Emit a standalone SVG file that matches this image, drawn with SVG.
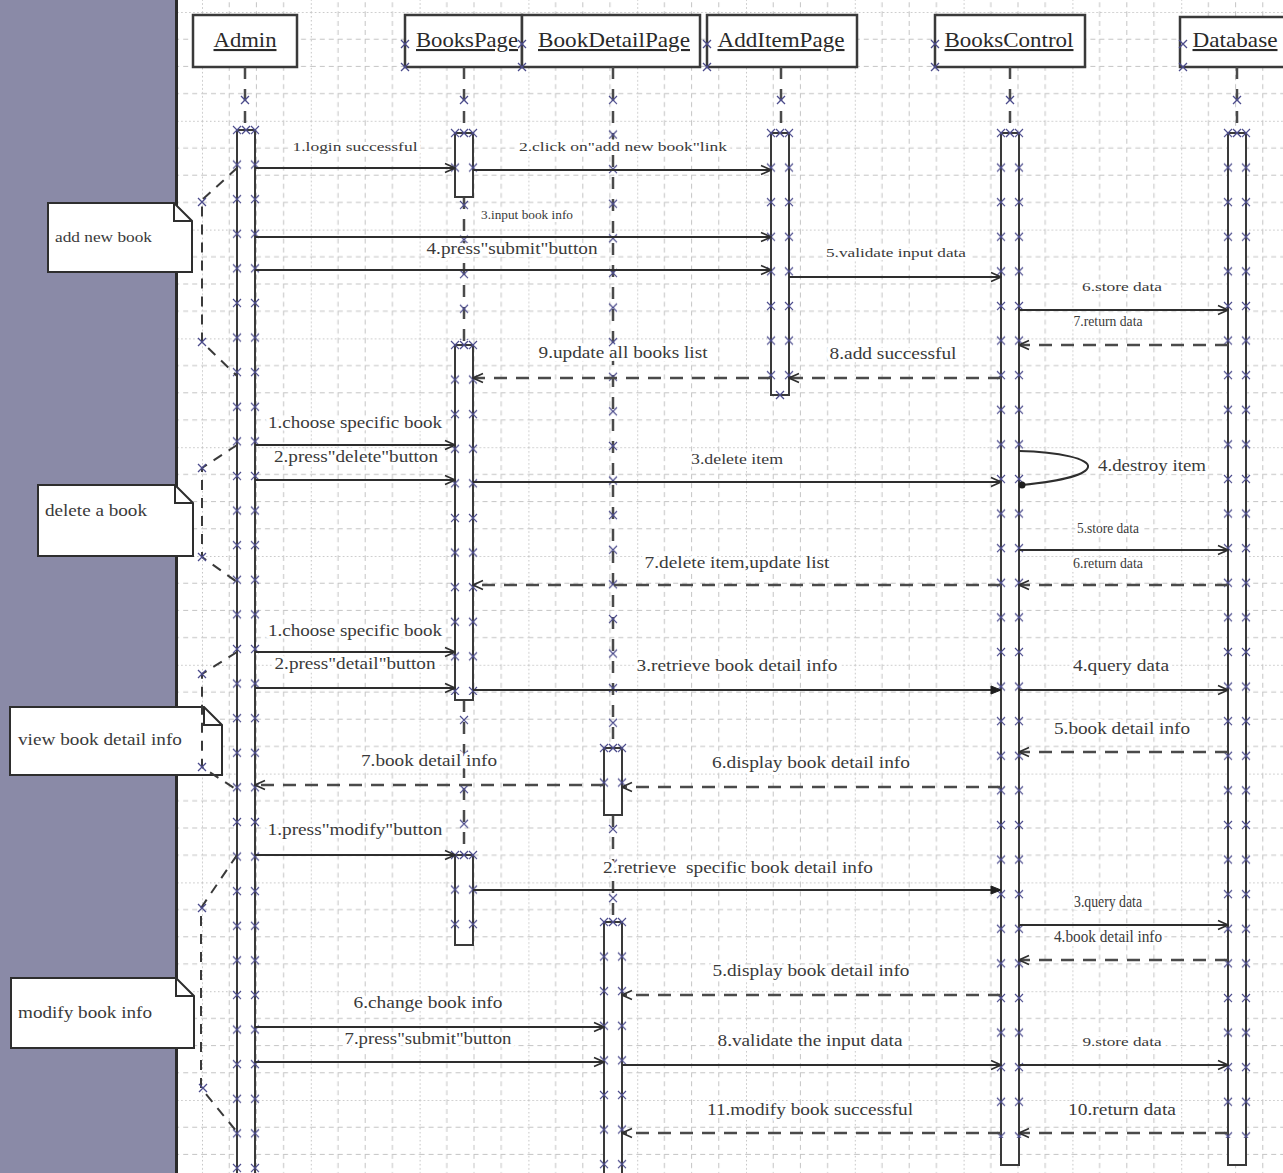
<svg xmlns="http://www.w3.org/2000/svg" xmlns:xlink="http://www.w3.org/1999/xlink" width="1283" height="1173" viewBox="0 0 1283 1173">
  <style>
    .head { fill: #ffffff; stroke: #3a3a3a; stroke-width: 2.5; }
    .name { font-family: "Liberation Serif", serif; font-size: 21px; fill: #2a2a2a; text-anchor: middle; text-decoration: underline; }
    .life { stroke: #4a4a4a; stroke-width: 2.5; stroke-dasharray: 12 10; fill: none; }
    .bar { fill: #ffffff; stroke: #3a3a3a; stroke-width: 2; }
    .msg { stroke: #2e2e2e; stroke-width: 2; fill: none; marker-end: url(#open); }
    .msgf { stroke: #2e2e2e; stroke-width: 2; fill: none; marker-end: url(#solid); }
    .ret { stroke: #4a4a4a; stroke-width: 2.5; stroke-dasharray: 13 9; fill: none; marker-end: url(#open); }
    .brk { stroke: #3a3a3a; stroke-width: 2; stroke-dasharray: 10 8; fill: none; }
    .lbl { font-family: "Liberation Serif", serif; font-size: 16px; fill: #3a3a3a; text-anchor: middle; paint-order: stroke; stroke: #ffffff; stroke-width: 6px; stroke-linejoin: round; white-space: pre; }
    .sm { font-size: 12px; }
    .md { font-size: 14px; }
    .note { fill: #ffffff; stroke: #2e2e2e; stroke-width: 2; }
    .ntxt { font-family: "Liberation Serif", serif; font-size: 15px; fill: #3a3a3a; }
  </style>
  <defs>
    <!-- page grid: fine dotted major line every 4 cells, dashed minor lines -->
    <pattern id="grid" patternUnits="userSpaceOnUse" x="202" y="12" width="108.8" height="108.8">
      <g fill="none" stroke="#c4c4c4" stroke-width="1">
        <path d="M0,0.5H108.8M0.5,0V108.8" stroke-dasharray="1.5 2.5"/>
        <path d="M0,27.2H108.8M0,54.4H108.8M0,81.6H108.8M27.2,0V108.8M54.4,0V108.8M81.6,0V108.8" stroke-dasharray="5 4"/>
      </g>
    </pattern>
    <!-- connection point crosses along both edges of an activation bar -->
    <pattern id="barx" patternUnits="userSpaceOnUse" x="-5" y="-5" width="28" height="34.6">
      <path d="M1,1L9,9M1,9L9,1M19,1L27,9M19,9L27,1" stroke="#4b4b8c" stroke-width="1.2" fill="none"/>
    </pattern>
    <!-- connection point crosses along a dashed lifeline -->
    <pattern id="linex" patternUnits="userSpaceOnUse" x="-5" y="-5" width="10" height="34.6">
      <path d="M1,1L9,9M1,9L9,1" stroke="#4b4b8c" stroke-width="1.2" fill="none"/>
    </pattern>
    <g id="xm"><path d="M-4,-4L4,4M-4,4L4,-4" stroke="#4b4b8c" stroke-width="1.3" fill="none"/></g>
    <marker id="open" viewBox="0 0 12 12" refX="11" refY="6" markerWidth="12" markerHeight="12" markerUnits="userSpaceOnUse" orient="auto">
      <path d="M1,1.5L11,6L1,10.5" fill="none" stroke="#2e2e2e" stroke-width="1.6"/>
    </marker>
    <marker id="solid" viewBox="0 0 12 12" refX="11" refY="6" markerWidth="12" markerHeight="12" markerUnits="userSpaceOnUse" orient="auto">
      <path d="M1,2L11,6L1,10Z" fill="#1e1e1e" stroke="#1e1e1e" stroke-width="1"/>
    </marker>
  </defs>

  <!-- page and side panel -->
  <rect x="0" y="0" width="1283" height="1173" fill="#ffffff"/>
  <rect x="178" y="0" width="1105" height="1173" fill="url(#grid)"/>
  <rect x="0" y="0" width="176" height="1173" fill="#8a8aa7"/>
  <line x1="176.5" y1="0" x2="176.5" y2="1173" stroke="#2a2a2a" stroke-width="3"/>

  <!-- lifelines -->
  <g id="admin">
    <rect class="head" x="193" y="15" width="104" height="52"/>
    <text class="name" x="245" y="47" textLength="63" lengthAdjust="spacingAndGlyphs">Admin</text>
    <line class="life" x1="245" y1="67" x2="245" y2="130"/>
    <use href="#xm" x="245" y="100"/>
    <g transform="translate(237,130)">
      <rect class="bar" width="18" height="1060"/>
      <rect x="-5" y="-5" width="28" height="1070" fill="url(#barx)"/>
      <use href="#xm" x="9" y="0"/>
    </g>
  </g>

  <g id="bookspage">
    <rect class="head" x="405" y="15" width="117" height="52"/>
    <text class="name" x="467" y="47" textLength="102" lengthAdjust="spacingAndGlyphs">BooksPage</text>
    <use href="#xm" x="405" y="44"/>
    <use href="#xm" x="405" y="67"/>
    <line class="life" x1="464" y1="67" x2="464" y2="133"/>
    <use href="#xm" x="464" y="100"/>
    <line class="life" x1="464" y1="197" x2="464" y2="345"/>
    <g transform="translate(464,205)"><rect x="-5" y="-5" width="10" height="140" fill="url(#linex)"/></g>
    <line class="life" x1="464" y1="700" x2="464" y2="855"/>
    <g transform="translate(464,720)"><rect x="-5" y="-5" width="10" height="125" fill="url(#linex)"/></g>
    <g transform="translate(455,133)">
      <rect class="bar" width="18" height="64"/>
      <rect x="-5" y="-5" width="28" height="64" fill="url(#barx)"/>
      <use href="#xm" x="9" y="0"/>
    </g>
    <g transform="translate(455,345)">
      <rect class="bar" width="18" height="355"/>
      <rect x="-5" y="-5" width="28" height="355" fill="url(#barx)"/>
      <use href="#xm" x="9" y="0"/>
    </g>
    <g transform="translate(455,855)">
      <rect class="bar" width="18" height="90"/>
      <rect x="-5" y="-5" width="28" height="80" fill="url(#barx)"/>
      <use href="#xm" x="9" y="0"/>
    </g>
  </g>

  <g id="bookdetailpage">
    <rect class="head" x="522" y="15" width="178" height="52"/>
    <text class="name" x="614" y="47" textLength="152" lengthAdjust="spacingAndGlyphs">BookDetailPage</text>
    <use href="#xm" x="522" y="44"/>
    <use href="#xm" x="522" y="67"/>
    <line class="life" x1="613" y1="67" x2="613" y2="748"/>
    <g transform="translate(613,100)"><rect x="-5" y="-5" width="10" height="640" fill="url(#linex)"/></g>
    <line class="life" x1="613" y1="815" x2="613" y2="922"/>
    <g transform="translate(613,829)"><rect x="-5" y="-5" width="10" height="85" fill="url(#linex)"/></g>
    <g transform="translate(604,748)">
      <rect class="bar" width="18" height="67"/>
      <rect x="-5" y="-5" width="28" height="67" fill="url(#barx)"/>
      <use href="#xm" x="9" y="0"/>
    </g>
    <g transform="translate(604,922)">
      <rect class="bar" width="18" height="270"/>
      <rect x="-5" y="-5" width="28" height="270" fill="url(#barx)"/>
      <use href="#xm" x="9" y="0"/>
    </g>
  </g>

  <g id="additempage">
    <rect class="head" x="707" y="15" width="150" height="52"/>
    <text class="name" x="781" y="47" textLength="127" lengthAdjust="spacingAndGlyphs">AddItemPage</text>
    <use href="#xm" x="707" y="44"/>
    <use href="#xm" x="707" y="67"/>
    <line class="life" x1="781" y1="67" x2="781" y2="133"/>
    <use href="#xm" x="781" y="100"/>
    <g transform="translate(771,133)">
      <rect class="bar" width="18" height="262"/>
      <rect x="-5" y="-5" width="28" height="262" fill="url(#barx)"/>
      <use href="#xm" x="9" y="0"/>
      <use href="#xm" x="9" y="262"/>
    </g>
  </g>

  <g id="bookscontrol">
    <rect class="head" x="935" y="15" width="150" height="52"/>
    <text class="name" x="1009" y="47" textLength="129" lengthAdjust="spacingAndGlyphs">BooksControl</text>
    <use href="#xm" x="935" y="44"/>
    <use href="#xm" x="935" y="67"/>
    <line class="life" x1="1010" y1="67" x2="1010" y2="133"/>
    <use href="#xm" x="1010" y="100"/>
    <g transform="translate(1001,133)">
      <rect class="bar" width="18" height="1032"/>
      <rect x="-5" y="-5" width="28" height="1010" fill="url(#barx)"/>
      <use href="#xm" x="9" y="0"/>
    </g>
  </g>

  <g id="database">
    <rect class="head" x="1180" y="17" width="120" height="50"/>
    <text class="name" x="1235" y="47" textLength="85" lengthAdjust="spacingAndGlyphs">Database</text>
    <use href="#xm" x="1183" y="44"/>
    <use href="#xm" x="1183" y="67"/>
    <line class="life" x1="1237" y1="67" x2="1237" y2="133"/>
    <use href="#xm" x="1237" y="100"/>
    <g transform="translate(1228,133)">
      <rect class="bar" width="18" height="1032"/>
      <rect x="-5" y="-5" width="28" height="1010" fill="url(#barx)"/>
      <use href="#xm" x="9" y="0"/>
    </g>
  </g>

  <!-- messages -->
  <g id="connectors">
    <!-- add new book -->
    <line class="msg" x1="255" y1="168" x2="455" y2="168"/>
    <line class="msg" x1="473" y1="170" x2="771" y2="170"/>
    <line class="msg" x1="255" y1="237" x2="771" y2="237"/>
    <line class="msg" x1="255" y1="270" x2="771" y2="270"/>
    <line class="msg" x1="789" y1="277" x2="1001" y2="277"/>
    <line class="msg" x1="1019" y1="310" x2="1228" y2="310"/>
    <line class="ret" x1="1228" y1="345" x2="1019" y2="345"/>
    <line class="ret" x1="1001" y1="378" x2="789" y2="378"/>
    <line class="ret" x1="771" y1="378" x2="473" y2="378"/>
    <!-- delete a book -->
    <line class="msg" x1="255" y1="445" x2="455" y2="445"/>
    <line class="msg" x1="255" y1="480" x2="455" y2="480"/>
    <line class="msg" x1="473" y1="482" x2="1001" y2="482"/>
    <path d="M1019,451 C1060,452 1090,459 1088,467 C1086,476 1052,482 1022,485" fill="none" stroke="#2e2e2e" stroke-width="2"/>
    <circle cx="1022" cy="485" r="3.5" fill="#1e1e1e"/>
    <line class="msg" x1="1019" y1="550" x2="1228" y2="550"/>
    <line class="ret" x1="1228" y1="585" x2="1019" y2="585"/>
    <line class="ret" x1="1001" y1="585" x2="473" y2="585"/>
    <!-- view book detail info -->
    <line class="msg" x1="255" y1="652" x2="455" y2="652"/>
    <line class="msg" x1="255" y1="688" x2="455" y2="688"/>
    <line class="msgf" x1="473" y1="690" x2="1001" y2="690"/>
    <line class="msg" x1="1019" y1="690" x2="1228" y2="690"/>
    <line class="ret" x1="1228" y1="752" x2="1019" y2="752"/>
    <line class="ret" x1="1001" y1="787" x2="622" y2="787"/>
    <line class="ret" x1="604" y1="785" x2="255" y2="785"/>
    <!-- modify book info -->
    <line class="msg" x1="255" y1="855" x2="455" y2="855"/>
    <line class="msgf" x1="473" y1="890" x2="1001" y2="890"/>
    <line class="msg" x1="1019" y1="925" x2="1228" y2="925"/>
    <line class="ret" x1="1228" y1="960" x2="1019" y2="960"/>
    <line class="ret" x1="1001" y1="995" x2="622" y2="995"/>
    <line class="msg" x1="255" y1="1027" x2="604" y2="1027"/>
    <line class="msg" x1="255" y1="1062" x2="604" y2="1062"/>
    <line class="msg" x1="622" y1="1065" x2="1001" y2="1065"/>
    <line class="msg" x1="1019" y1="1065" x2="1228" y2="1065"/>
    <line class="ret" x1="1228" y1="1133" x2="1019" y2="1133"/>
    <line class="ret" x1="1001" y1="1133" x2="622" y2="1133"/>
  </g>

  <!-- message labels -->
  <g id="labels">
    <text class="lbl sm" x="355" y="151" textLength="125" lengthAdjust="spacingAndGlyphs">1.login successful</text>
    <text class="lbl sm" x="623" y="151" textLength="208" lengthAdjust="spacingAndGlyphs">2.click on"add new book"link</text>
    <text class="lbl sm" x="527" y="219" textLength="92" lengthAdjust="spacingAndGlyphs">3.input book info</text>
    <text class="lbl" x="512" y="254" textLength="171" lengthAdjust="spacingAndGlyphs">4.press"submit"button</text>
    <text class="lbl sm" x="896" y="257" textLength="140" lengthAdjust="spacingAndGlyphs">5.validate input data</text>
    <text class="lbl sm" x="1122" y="291" textLength="80" lengthAdjust="spacingAndGlyphs">6.store data</text>
    <text class="lbl md" x="1108" y="326" textLength="69" lengthAdjust="spacingAndGlyphs">7.return data</text>
    <text class="lbl" x="893" y="359" textLength="127" lengthAdjust="spacingAndGlyphs">8.add successful</text>
    <text class="lbl" x="623" y="358" textLength="169" lengthAdjust="spacingAndGlyphs">9.update all books list</text>

    <text class="lbl" x="355" y="428" textLength="174" lengthAdjust="spacingAndGlyphs">1.choose specific book</text>
    <text class="lbl" x="356" y="462" textLength="164" lengthAdjust="spacingAndGlyphs">2.press"delete"button</text>
    <text class="lbl md" x="737" y="464" textLength="92" lengthAdjust="spacingAndGlyphs">3.delete item</text>
    <text class="lbl" x="1098" y="471" style="text-anchor:start" textLength="108" lengthAdjust="spacingAndGlyphs">4.destroy item</text>
    <text class="lbl md" x="1108" y="533" textLength="62" lengthAdjust="spacingAndGlyphs">5.store data</text>
    <text class="lbl md" x="1108" y="568" textLength="70" lengthAdjust="spacingAndGlyphs">6.return data</text>
    <text class="lbl" x="737" y="568" textLength="185" lengthAdjust="spacingAndGlyphs">7.delete item,update list</text>

    <text class="lbl" x="355" y="636" textLength="174" lengthAdjust="spacingAndGlyphs">1.choose specific book</text>
    <text class="lbl" x="355" y="669" textLength="161" lengthAdjust="spacingAndGlyphs">2.press"detail"button</text>
    <text class="lbl" x="737" y="671" textLength="201" lengthAdjust="spacingAndGlyphs">3.retrieve book detail info</text>
    <text class="lbl" x="1121" y="671" textLength="96" lengthAdjust="spacingAndGlyphs">4.query data</text>
    <text class="lbl" x="1122" y="734" textLength="136" lengthAdjust="spacingAndGlyphs">5.book detail info</text>
    <text class="lbl" x="811" y="768" textLength="198" lengthAdjust="spacingAndGlyphs">6.display book detail info</text>
    <text class="lbl" x="429" y="766" textLength="136" lengthAdjust="spacingAndGlyphs">7.book detail info</text>

    <text class="lbl" x="355" y="835" textLength="175" lengthAdjust="spacingAndGlyphs">1.press"modify"button</text>
    <text class="lbl" x="738" y="873" textLength="270" lengthAdjust="spacingAndGlyphs">2.retrieve  specific book detail info</text>
    <text class="lbl" x="1108" y="907" textLength="68" lengthAdjust="spacingAndGlyphs">3.query data</text>
    <text class="lbl" x="1108" y="942" textLength="108" lengthAdjust="spacingAndGlyphs">4.book detail info</text>
    <text class="lbl" x="811" y="976" textLength="197" lengthAdjust="spacingAndGlyphs">5.display book detail info</text>
    <text class="lbl" x="428" y="1008" textLength="149" lengthAdjust="spacingAndGlyphs">6.change book info</text>
    <text class="lbl" x="428" y="1044" textLength="167" lengthAdjust="spacingAndGlyphs">7.press"submit"button</text>
    <text class="lbl" x="810" y="1046" textLength="185" lengthAdjust="spacingAndGlyphs">8.validate the input data</text>
    <text class="lbl sm" x="1122" y="1046" textLength="79" lengthAdjust="spacingAndGlyphs">9.store data</text>
    <text class="lbl" x="1122" y="1115" textLength="108" lengthAdjust="spacingAndGlyphs">10.return data</text>
    <text class="lbl" x="810" y="1115" textLength="206" lengthAdjust="spacingAndGlyphs">11.modify book successful</text>
  </g>

  <!-- fragment notes with their brackets -->
  <g id="note-add">
    <path class="note" d="M48,203H174L192,221V272H48Z"/>
    <path d="M174,203V221H192" fill="none" stroke="#2e2e2e" stroke-width="2"/>
    <text class="ntxt" x="55" y="242" style="font-size:14px" textLength="97" lengthAdjust="spacingAndGlyphs">add new book</text>
    <path class="brk" d="M237,168L202,200V342L237,376"/>
    <use href="#xm" x="202" y="202"/>
    <use href="#xm" x="202" y="342"/>
  </g>
  <g id="note-delete">
    <path class="note" d="M38,485H175L193,503V556H38Z"/>
    <path d="M175,485V503H193" fill="none" stroke="#2e2e2e" stroke-width="2"/>
    <text class="ntxt" x="45" y="516" style="font-size:16px" textLength="102" lengthAdjust="spacingAndGlyphs">delete a book</text>
    <path class="brk" d="M237,445L202,468V557L237,582"/>
    <use href="#xm" x="202" y="468"/>
    <use href="#xm" x="202" y="557"/>
  </g>
  <g id="note-view">
    <path class="note" d="M10,707H204L222,725V775H10Z"/>
    <path d="M204,707V725H222" fill="none" stroke="#2e2e2e" stroke-width="2"/>
    <text class="ntxt" x="18" y="745" style="font-size:16px" textLength="164" lengthAdjust="spacingAndGlyphs">view book detail info</text>
    <path class="brk" d="M237,652L202,674V767L237,790"/>
    <use href="#xm" x="202" y="674"/>
    <use href="#xm" x="202" y="767"/>
  </g>
  <g id="note-modify">
    <path class="note" d="M11,978H176L194,996V1048H11Z"/>
    <path d="M176,978V996H194" fill="none" stroke="#2e2e2e" stroke-width="2"/>
    <text class="ntxt" x="18" y="1018" style="font-size:16px" textLength="134" lengthAdjust="spacingAndGlyphs">modify book info</text>
    <path class="brk" d="M237,855L201,908V1088L237,1132"/>
    <use href="#xm" x="202" y="908"/>
    <use href="#xm" x="203" y="1088"/>
  </g>
</svg>
